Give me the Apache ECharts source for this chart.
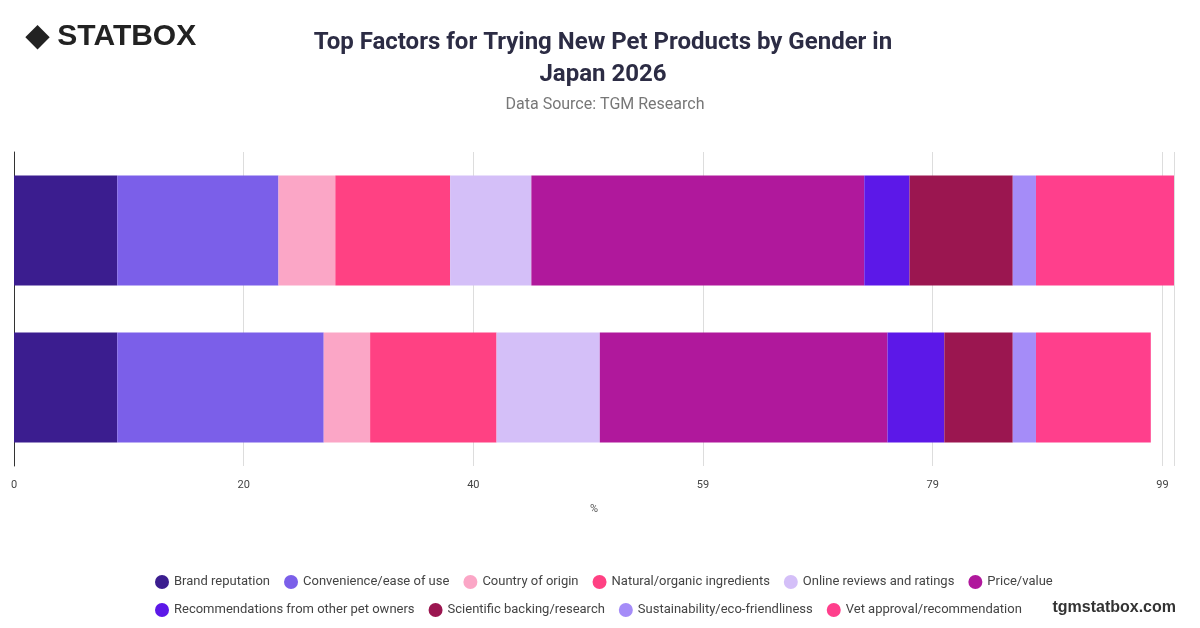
<!DOCTYPE html>
<html><head><meta charset="utf-8">
<script src="https://cdn.jsdelivr.net/npm/echarts@6/dist/echarts.min.js"></script>
<style>html,body{margin:0;padding:0;background:#fff}#c{width:1200px;height:628px}</style>
</head><body><div id="c"></div>
<script>
const categories = ['Male', 'Female'];
const seriesNames = ['Brand reputation', 'Convenience/ease of use', 'Country of origin', 'Natural/organic ingredients', 'Online reviews and ratings', 'Price/value', 'Recommendations from other pet owners', 'Scientific backing/research', 'Sustainability/eco-friendliness', 'Vet approval/recommendation'];
// values per series: [bottom bar, top bar]
const values = [
  [8.9, 8.9],
  [17.8, 13.9],
  [4.0, 4.9],
  [10.9, 9.9],
  [8.9, 7.0],
  [24.8, 28.7],
  [4.9, 3.9],
  [5.9, 8.9],
  [2.0, 2.0],
  [9.9, 11.9]
];
const colors = ['#3b1d8f', '#7b5fe9', '#fba6c6', '#ff4183', '#d4bff8', '#b0189c', '#5c18e8', '#9b1650', '#a58cf8', '#ff3f8c'];

const chart = echarts.init(document.getElementById('c'));
chart.setOption({
  color: colors,
  textStyle: {fontFamily: 'Roboto'},
  title: [{
    text: 'Top Factors for Trying New Pet Products by Gender in\nJapan 2026',
    left: 598, top: 22, textAlign: 'center',
    textStyle: {fontSize: 24, fontWeight: 'bold', color: '#2c2c44', lineHeight: 32}
  }, {
    text: 'Data Source: TGM Research',
    left: 600, top: 92, textAlign: 'center',
    textStyle: {fontSize: 16, fontWeight: 'normal', color: '#777'}
  }],
  graphic: [
    {type: 'text', left: 26, top: 22, style: {text: '◆ STATBOX', fontSize: 30, fontWeight: 'bold', fill: '#222'}},
    {type: 'text', right: 24, bottom: 12, style: {text: 'tgmstatbox.com', fontSize: 16, fontWeight: 'bold', fill: '#333'}}
  ],
  legend: {
    bottom: 6, left: 150, width: 940, itemGap: 14,
    icon: 'circle', itemWidth: 14, itemHeight: 14,
    textStyle: {fontSize: 13, color: '#444'},
    data: seriesNames
  },
  grid: {left: 14, right: 26, top: 152, bottom: 162},
  xAxis: {
    type: 'value', min: 0, max: 100, interval: 19.8,
    name: '%', nameLocation: 'middle', nameGap: 38,
    nameTextStyle: {fontSize: 11, color: '#555'},
    axisLabel: {fontSize: 11, color: '#444', margin: 14, formatter: v => v > 99.5 ? '' : Math.round(v)},
    splitLine: {lineStyle: {color: '#ddd'}},
    axisLine: {show: false}
  },
  yAxis: {
    type: 'category', data: categories,
    axisLabel: {show: false}, axisTick: {show: false},
    axisLine: {lineStyle: {color: '#333'}}
  },
  series: seriesNames.map((n, i) => ({
    name: n, type: 'bar', stack: 'all', barWidth: 110,
    data: values[i]
  }))
});
</script></body></html>
